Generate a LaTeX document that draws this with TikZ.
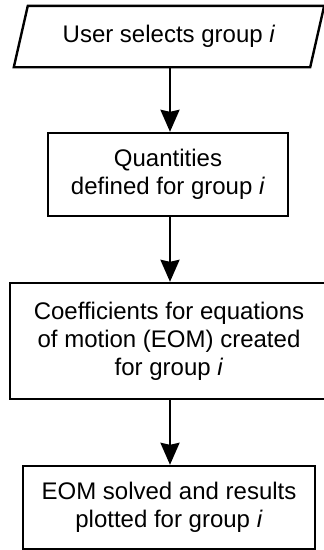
\documentclass[tikz,border=0pt]{standalone}
\usepackage{fontspec}
\setmainfont{Liberation Sans}
\usetikzlibrary{arrows.meta}
\tikzset{
  box/.style={draw=black, line width=2.4pt, align=center, font=\fontsize{24}{28}\selectfont, inner sep=0pt},
  flow/.style={line width=2.4pt, -{Stealth[width=19pt,length=22pt,inset=2pt]}},
}
\begin{document}
\begin{tikzpicture}[x=1pt,y=-1pt]
\useasboundingbox (0,0) rectangle (324,550);
\node[box, draw=none, minimum width=294pt, minimum height=59pt] (a) at (169,36.5) {User selects group \textit{i}};
\draw[line width=2.4pt, line join=miter] ([xshift=-7pt]a.south west) -- ([xshift=7pt]a.north west) -- ([xshift=7pt]a.north east) -- ([xshift=-7pt]a.south east) -- cycle;
\node[box, minimum width=240pt, minimum height=83pt] (b) at (168,174.5) {Quantities\\defined for group \textit{i}};
\node[box, minimum width=318pt, minimum height=116pt] (c) at (169,341) {Coefficients for equations\\of motion (EOM) created\\for group \textit{i}};
\node[box, minimum width=292pt, minimum height=83pt] (d) at (169,507.5) {EOM solved and results\\plotted for group \textit{i}};
\draw[flow] (a.south -| 170,0) -- (b.north -| 170,0);
\draw[flow] (b.south -| 170,0) -- (c.north -| 170,0);
\draw[flow] (c.south -| 170,0) -- (d.north -| 170,0);
\end{tikzpicture}
\end{document}
